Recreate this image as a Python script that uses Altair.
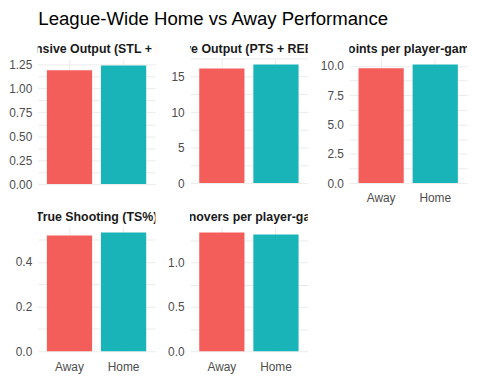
import altair as alt
import pandas as pd

locations = ["Away", "Home"]
titles = [
    "Defensive Output (STL + BLK)",
    "Offensive Output (PTS + REB + AST)",
    "Points per player-game",
    "True Shooting (TS%)",
    "Turnovers per player-game",
]
away_values = [1.19, 16.15, 9.81, 0.518, 1.337]
home_values = [1.24, 16.72, 10.14, 0.531, 1.315]
major_ticks = [
    [0, 0.25, 0.5, 0.75, 1.0, 1.25],
    [0, 5, 10, 15],
    [0, 2.5, 5, 7.5, 10],
    [0, 0.2, 0.4],
    [0, 0.5, 1.0],
]
label_formats = [".2f", "d", ".1f", ".1f", ".1f"]
show_x_labels = [False, False, True, True, True]

FONT = "Liberation Sans"
W = 119
H = 126
COLORS = ["#F35E5A", "#18B4B8"]


def panel(i):
    vals = [away_values[i], home_values[i]]
    top = max(vals) * 1.05
    majors = major_ticks[i]
    step = majors[1] - majors[0]
    minors = [m + step / 2 for m in majors if m + step / 2 <= top]
    all_ticks = sorted(set(majors + minors))
    df = pd.DataFrame({"loc": locations, "value": vals})

    strip = (
        alt.Chart(pd.DataFrame({"t": [titles[i]]}))
        .mark_text(clip=True, font=FONT, fontSize=12.5, fontWeight="bold",
                   color="#1A1A1A", baseline="middle", align="center")
        .encode(x=alt.value(W / 2), y=alt.value(8), text="t:N")
        .properties(width=W, height=16)
    )

    label_expr = (
        "indexof(" + str(majors) + ", datum.value) >= 0 ? format(datum.value, '"
        + label_formats[i] + "') : ''"
    )

    bars = (
        alt.Chart(df)
        .mark_bar()
        .encode(
            x=alt.X(
                "loc:N",
                title=None,
                sort=locations,
                scale=alt.Scale(paddingInner=0.164, paddingOuter=0.17),
                axis=alt.Axis(
                    labels=show_x_labels[i], labelAngle=0, ticks=False, domain=False,
                    grid=True, gridColor="#EBEBEB", labelFont=FONT, labelFontSize=12,
                    labelColor="#4D4D4D", labelPadding=10,
                ),
            ),
            y=alt.Y(
                "value:Q",
                title=None,
                scale=alt.Scale(domain=[0, top], nice=False, zero=True),
                axis=alt.Axis(
                    values=all_ticks, labelExpr=label_expr, ticks=False, domain=False,
                    grid=True, gridColor="#EBEBEB", labelFont=FONT, labelFontSize=12,
                    labelColor="#4D4D4D", labelPadding=6,
                ),
            ),
            color=alt.Color(
                "loc:N",
                scale=alt.Scale(domain=locations, range=COLORS),
                legend=None,
            ),
        )
        .properties(width=W, height=H)
    )
    return alt.vconcat(strip, bars, spacing=2)


chart = alt.ConcatChart(
    concat=[panel(i) for i in range(5)],
    columns=3,
    spacing={"row": 5, "column": 12},
    align="each",
    title=alt.Title(
        "League-Wide Home vs Away Performance",
        anchor="start", fontSize=18.8, fontWeight="normal", font=FONT,
        color="#000000", dx=30, offset=12,
    ),
    padding={"left": 0, "top": 0, "right": 5, "bottom": 5},
).configure_view(stroke=None)

chart.save("out.html", embed_options={"renderer": "svg", "actions": False})
